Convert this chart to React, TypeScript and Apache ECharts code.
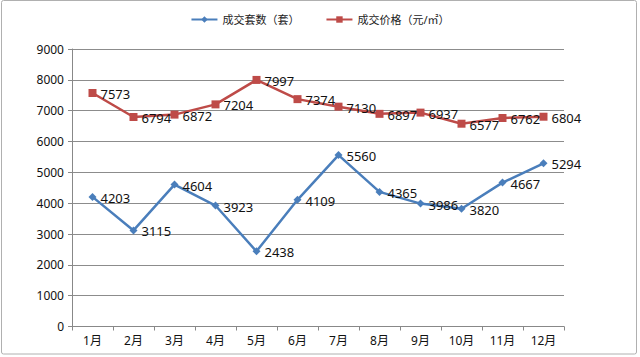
import React, { useEffect, useRef } from "react";
import * as echarts from "echarts";

const months = ["1月", "2月", "3月", "4月", "5月", "6月", "7月", "8月", "9月", "10月", "11月", "12月"];
const volume = [4203, 3115, 4604, 3923, 2438, 4109, 5560, 4365, 3986, 3820, 4667, 5294];
const price = [7573, 6794, 6872, 7204, 7997, 7374, 7130, 6897, 6937, 6577, 6762, 6804];
const volumeName = "成交套数（套）";
const priceName = "成交价格（元/㎡）";

export default function App() {
  const ref = useRef<HTMLDivElement>(null);
  useEffect(() => {
    const chart = echarts.init(ref.current!, undefined, { renderer: "svg" });
    const font = "'Noto Sans', 'Noto Sans CJK SC', sans-serif";
    chart.setOption({
      animation: false,
      backgroundColor: "#ffffff",
      textStyle: { fontFamily: font },
      graphic: [
        {
          type: "rect",
          shape: { x: 1.5, y: 0.5, width: 635, height: 353.5, r: 2 },
          style: { fill: "none", stroke: "#b0b0b0", lineWidth: 1 },
          silent: true,
        },
      ],
      legend: {
        top: 9,
        left: "center",
        itemWidth: 26,
        itemHeight: 8,
        itemGap: 26,
        textStyle: { fontSize: 11, color: "#222", fontFamily: font },
        data: [volumeName, priceName],
      },
      grid: { left: 72, top: 49, width: 492, height: 277.5, containLabel: false },
      xAxis: {
        type: "category",
        data: months,
        boundaryGap: true,
        axisLine: { lineStyle: { color: "#888", width: 1 } },
        axisTick: { show: true, length: 4, inside: false, lineStyle: { color: "#888" } },
        axisLabel: { fontSize: 12, color: "#111", margin: 8, fontFamily: font },
        splitLine: { show: false },
      },
      yAxis: {
        type: "value",
        min: 0,
        max: 9000,
        interval: 1000,
        axisLine: { show: true, lineStyle: { color: "#888", width: 1 } },
        axisTick: { show: true, length: 4, lineStyle: { color: "#888" } },
        axisLabel: {
          fontSize: 12,
          color: "#111",
          margin: 8,
          fontFamily: font,
          formatter: (v: number) => String(v),
        },
        splitLine: { lineStyle: { color: "#8c8c8c", width: 1 } },
      },
      series: [
        {
          name: volumeName,
          type: "line",
          data: volume,
          symbol: "diamond",
          symbolSize: 8,
          color: "#4a7ebb",
          lineStyle: { width: 2.5, color: "#4a7ebb" },
          itemStyle: { color: "#4a7ebb" },
          label: {
            show: true,
            position: "right",
            distance: 4,
            fontSize: 13,
            color: "#111",
            fontFamily: font,
            offset: [0, 1],
          },
        },
        {
          name: priceName,
          type: "line",
          data: price,
          symbol: "rect",
          symbolSize: 8,
          color: "#be4b48",
          lineStyle: { width: 2.5, color: "#be4b48" },
          itemStyle: { color: "#be4b48" },
          label: {
            show: true,
            position: "right",
            distance: 4,
            fontSize: 13,
            color: "#111",
            fontFamily: font,
            offset: [0, 1],
          },
        },
      ],
    });
    return () => chart.dispose();
  }, []);
  return (
    <div
      ref={ref}
      style={{ position: "fixed", left: 0, top: 0, width: 640, height: 357 }}
    />
  );
}
